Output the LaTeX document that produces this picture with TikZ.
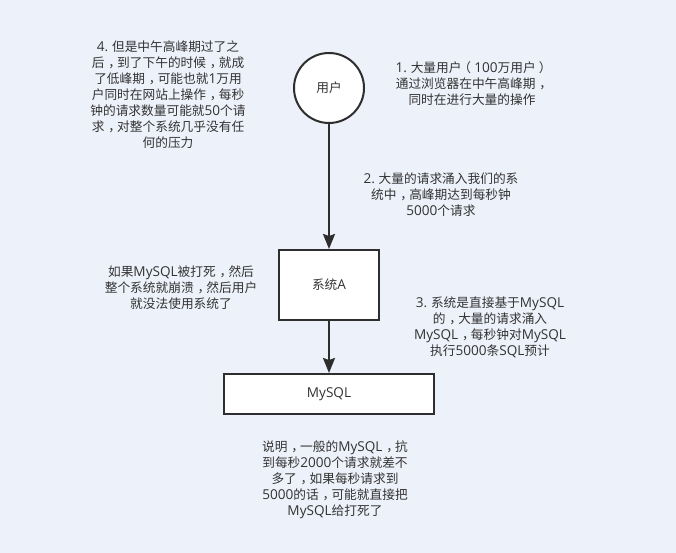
\documentclass[tikz,border=0pt]{standalone}
\usepackage{fontspec}
\setmainfont{Noto Sans CJK SC}
\newfontfamily\enfont[Scale=1.07]{Open Sans}
\newcommand{\en}[1]{{\enfont #1}}
% full-width marks sit in the middle of their box
\newcommand{\cm}{\kern.3em，\kern-.3em}
\newcommand{\lp}{\kern-.25em（\kern.25em}
\newcommand{\rp}{\kern.25em）\kern-.25em}
\usetikzlibrary{arrows.meta,positioning}
\definecolor{bgblue}{HTML}{EDF1F9}
\definecolor{inkgray}{HTML}{2E2E2E}
\definecolor{txtgray}{HTML}{333333}
\tikzset{
every node/.style={font=\fontsize{12.7}{16}\selectfont,text=txtgray},
note/.style={align=center,inner sep=0pt},
block/.style={draw=inkgray,line width=2pt,fill=white,inner sep=0pt},
flow/.style={draw=inkgray,line width=2pt,-{Stealth[length=15pt,width=12pt,inset=2pt]}}
}
\begin{document}
\begin{tikzpicture}[x=1pt,y=-1pt]
\fill[bgblue] (0,0) rectangle (676,553);
\useasboundingbox (0,0) rectangle (676,553);
\node [block,circle,minimum size=70pt] (user) at (329,88) {用户};
\node [block,minimum width=100pt,minimum height=70pt] (sysA) at (329,285) {系统\en{A}};
\node [block,minimum width=210pt,minimum height=40pt] (mysql) at (329,394) {\en{MySQL}};
\draw [flow] (user) -- (sysA);
\draw [flow] (sysA) -- (mysql);
\node [note] (n4) at (168,95) {\en{4.} 但是中午高峰期过了之\\后\cm 到了下午的时候\cm 就成\\了低峰期\cm 可能也就\en{1}万用\\户同时在网站上操作\cm 每秒\\钟的请求数量可能就\en{50}个请\\求\cm 对整个系统几乎没有任\\何的压力};
\node [note] (n1) at (472,84) {\en{1.} 大量用户\lp\en{100}万用户\rp\\通过浏览器在中午高峰期\cm\\同时在进行大量的操作};
\node [note] (n2) at (441,194.5) {\en{2.} 大量的请求涌入我们的系\\统中\cm 高峰期达到每秒钟\\\en{5000}个请求};
\node [note] (crash) at (181,288) {如果\en{MySQL}被打死\cm 然后\\整个系统就崩溃\cm 然后用户\\就没法使用系统了};
\node [note] (n3) at (490,327) {\en{3.} 系统是直接基于\en{MySQL}\\的\cm 大量的请求涌入\\\en{MySQL}\cm 每秒钟对\en{MySQL}\\执行\en{5000}条\en{SQL}预计};
\node [note] (memo) at (335,480) {说明\cm 一般的\en{MySQL}\cm 抗\\到每秒\en{2000}个请求就差不\\多了\cm 如果每秒请求到\\\en{5000}的话\cm 可能就直接把\\\en{MySQL}给打死了};
\end{tikzpicture}
\end{document}
